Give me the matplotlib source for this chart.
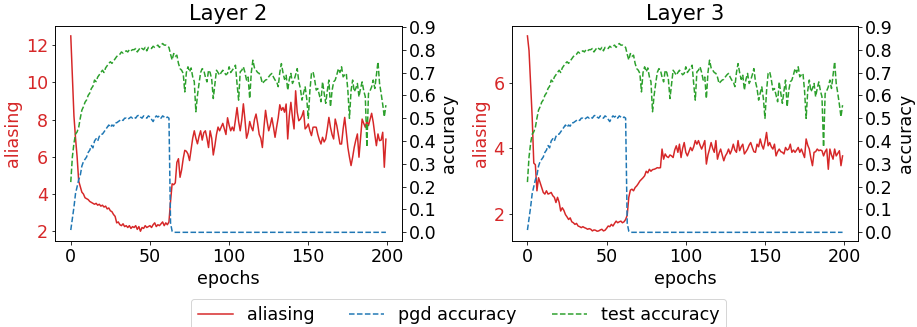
import numpy as np
import matplotlib
matplotlib.use("Agg")
import matplotlib.pyplot as plt

# test / pgd accuracy (same model for both layers)
test_acc = [
    0.22, 0.33, 0.39, 0.43, 0.44, 0.46, 0.50, 0.535, 0.55, 0.57,
    0.58, 0.60, 0.61, 0.63, 0.64, 0.667, 0.66, 0.68, 0.69, 0.70,
    0.71, 0.70, 0.72, 0.73, 0.74, 0.747, 0.74, 0.75, 0.76, 0.77,
    0.776, 0.78, 0.79, 0.785, 0.79, 0.795, 0.79, 0.80, 0.795, 0.80,
    0.80, 0.805, 0.79, 0.80, 0.81, 0.805, 0.80, 0.81, 0.795, 0.81,
    0.81, 0.805, 0.815, 0.81, 0.815, 0.82, 0.81, 0.82, 0.827, 0.82,
    0.82, 0.815, 0.81, 0.78, 0.755, 0.783, 0.77, 0.776, 0.74, 0.717,
    0.71, 0.696, 0.615, 0.70, 0.725, 0.703, 0.72, 0.681, 0.66, 0.528,
    0.60, 0.652, 0.70, 0.717, 0.71, 0.68, 0.659, 0.71, 0.70, 0.67,
    0.586, 0.65, 0.71, 0.70, 0.688, 0.70, 0.71, 0.70, 0.69, 0.696,
    0.725, 0.70, 0.71, 0.72, 0.732, 0.65, 0.579, 0.703, 0.71, 0.725,
    0.70, 0.667, 0.68, 0.586, 0.70, 0.754, 0.72, 0.71, 0.70, 0.696,
    0.68, 0.652, 0.66, 0.667, 0.67, 0.681, 0.69, 0.696, 0.68, 0.667,
    0.66, 0.638, 0.70, 0.739, 0.70, 0.67, 0.688, 0.623, 0.67, 0.696,
    0.652, 0.667, 0.69, 0.717, 0.66, 0.63, 0.579, 0.61, 0.637, 0.586,
    0.499, 0.62, 0.696, 0.703, 0.67, 0.623, 0.63, 0.60, 0.572, 0.659,
    0.61, 0.565, 0.62, 0.667, 0.55, 0.62, 0.659, 0.667, 0.69, 0.717,
    0.70, 0.725, 0.681, 0.69, 0.696, 0.62, 0.499, 0.62, 0.667, 0.616,
    0.63, 0.652, 0.594, 0.63, 0.659, 0.62, 0.594, 0.374, 0.608, 0.62,
    0.637, 0.667, 0.63, 0.69, 0.747, 0.652, 0.608, 0.56, 0.506, 0.557,
]

pgd_acc = [
    0.01, 0.06, 0.11, 0.17, 0.20, 0.23, 0.25, 0.29, 0.31, 0.32,
    0.33, 0.35, 0.36, 0.38, 0.37, 0.40, 0.41, 0.40, 0.42, 0.43,
    0.43, 0.44, 0.45, 0.46, 0.47, 0.46, 0.47, 0.465, 0.48, 0.48,
    0.485, 0.49, 0.495, 0.49, 0.50, 0.50, 0.495, 0.50, 0.505, 0.50,
    0.505, 0.50, 0.51, 0.513, 0.505, 0.50, 0.51, 0.505, 0.50, 0.51,
    0.505, 0.495, 0.485, 0.50, 0.51, 0.505, 0.51, 0.50, 0.51, 0.505,
    0.50, 0.505, 0.50, 0.04, 0.005, 0.0, 0.0, 0.0, 0.0, 0.0,
    0.0, 0.0, 0.0, 0.0, 0.0, 0.0, 0.0, 0.0, 0.0, 0.0,
    0.0, 0.0, 0.0, 0.0, 0.0, 0.0, 0.0, 0.0, 0.0, 0.0,
    0.0, 0.0, 0.0, 0.0, 0.0, 0.0, 0.0, 0.0, 0.0, 0.0,
    0.0, 0.0, 0.0, 0.0, 0.0, 0.0, 0.0, 0.0, 0.0, 0.0,
    0.0, 0.0, 0.0, 0.0, 0.0, 0.0, 0.0, 0.0, 0.0, 0.0,
    0.0, 0.0, 0.0, 0.0, 0.0, 0.0, 0.0, 0.0, 0.0, 0.0,
    0.0, 0.0, 0.0, 0.0, 0.0, 0.0, 0.0, 0.0, 0.0, 0.0,
    0.0, 0.0, 0.0, 0.0, 0.0, 0.0, 0.0, 0.0, 0.0, 0.0,
    0.0, 0.0, 0.0, 0.0, 0.0, 0.0, 0.0, 0.0, 0.0, 0.0,
    0.0, 0.0, 0.0, 0.0, 0.0, 0.0, 0.0, 0.0, 0.0, 0.0,
    0.0, 0.0, 0.0, 0.0, 0.0, 0.0, 0.0, 0.0, 0.0, 0.0,
    0.0, 0.0, 0.0, 0.0, 0.0, 0.0, 0.0, 0.0, 0.0, 0.0,
    0.0, 0.0, 0.0, 0.0, 0.0, 0.0, 0.0, 0.0, 0.0, 0.0,
]

# aliasing per layer
alias_layer2 = [
    12.5, 10.3, 8.2, 7.0, 6.0, 4.7, 4.4, 4.1, 4.0, 3.8,
    3.75, 3.7, 3.6, 3.55, 3.5, 3.45, 3.5, 3.4, 3.45, 3.35,
    3.4, 3.3, 3.35, 3.2, 3.25, 3.1, 3.05, 2.9, 2.8, 2.45,
    2.5, 2.35, 2.3, 2.4, 2.25, 2.3, 2.2, 2.3, 2.15, 2.25,
    2.2, 2.3, 2.1, 2.25, 2.0, 2.2, 2.15, 2.3, 2.2, 2.25,
    2.3, 2.2, 2.35, 2.45, 2.25, 2.35, 2.3, 2.4, 2.5, 2.3,
    2.45, 2.35, 2.5, 3.6, 4.55, 4.5, 4.6, 5.7, 5.9, 4.9,
    5.3, 5.9, 6.35, 6.3, 6.15, 5.8, 6.4, 7.0, 7.4, 7.0,
    6.7, 7.1, 7.4, 6.9, 7.3, 7.4, 7.0, 6.5, 7.4, 7.0,
    6.1, 6.6, 7.2, 7.6, 7.4, 7.6, 7.8, 7.5, 7.2, 8.1,
    7.7, 7.4, 7.6, 7.4, 8.0, 8.65, 7.9, 7.4, 8.0, 8.85,
    8.0, 7.0, 7.3, 7.9, 7.6, 7.4, 8.0, 8.3, 7.8, 7.2,
    7.0, 6.5, 7.6, 8.5, 7.9, 7.4, 7.7, 8.1, 7.6, 7.05,
    7.6, 8.1, 8.8, 8.5, 8.65, 8.4, 8.84, 6.96, 8.2, 8.93,
    8.12, 7.5, 9.55, 8.4, 7.94, 8.03, 8.2, 8.48, 7.5, 7.6,
    7.77, 7.4, 7.14, 7.59, 7.6, 7.59, 7.2, 6.9, 6.69, 7.05,
    6.8, 6.96, 7.5, 8.12, 7.59, 7.2, 6.96, 8.03, 7.68, 7.2,
    6.69, 6.69, 7.5, 8.12, 7.32, 6.5, 5.98, 5.53, 5.98, 6.51,
    6.9, 7.23, 5.98, 7.0, 8.03, 7.8, 7.59, 7.94, 7.68, 8.0,
    8.34, 7.86, 7.2, 6.6, 7.23, 6.87, 6.9, 7.32, 5.44, 6.95,
]

alias_layer3 = [
    7.45, 7.0, 6.0, 4.95, 3.55, 3.5, 2.7, 3.1, 2.95, 2.8,
    2.65, 2.6, 2.7, 2.6, 2.62, 2.65, 2.55, 2.5, 2.34, 2.5,
    2.35, 2.08, 2.18, 2.1, 1.97, 1.9, 1.82, 1.87, 1.75, 1.72,
    1.67, 1.7, 1.62, 1.6, 1.57, 1.6, 1.57, 1.55, 1.52, 1.54,
    1.52, 1.47, 1.5, 1.49, 1.46, 1.47, 1.5, 1.52, 1.47, 1.49,
    1.55, 1.62, 1.6, 1.67, 1.62, 1.7, 1.77, 1.72, 1.75, 1.77,
    1.72, 1.75, 1.82, 1.95, 2.5, 2.72, 2.75, 2.7, 2.8, 2.85,
    2.92, 3.0, 3.05, 3.1, 3.16, 3.3, 3.25, 3.36, 3.3, 3.35,
    3.36, 3.38, 3.41, 3.4, 3.41, 3.98, 3.67, 3.83, 3.75, 3.72,
    3.8, 3.77, 3.72, 3.95, 4.08, 3.88, 4.13, 3.72, 4.0, 4.18,
    3.88, 3.77, 3.9, 4.03, 3.93, 4.05, 4.24, 4.13, 4.24, 4.1,
    3.98, 4.1, 4.24, 3.52, 3.8, 3.98, 4.18, 4.0, 3.88, 4.24,
    3.67, 3.85, 3.98, 3.8, 3.62, 3.77, 3.85, 3.98, 3.83, 3.95,
    4.13, 3.95, 3.88, 4.24, 3.93, 4.05, 4.13, 3.83, 3.9, 3.98,
    4.1, 4.18, 4.03, 3.9, 3.88, 4.13, 4.05, 4.29, 4.1, 3.98,
    4.2, 4.49, 4.08, 4.18, 4.05, 3.98, 4.13, 3.77, 3.9, 3.98,
    3.9, 3.88, 3.83, 4.03, 3.95, 3.98, 4.13, 3.88, 3.95, 3.88,
    3.95, 4.03, 3.88, 3.98, 3.85, 3.72, 4.29, 4.1, 3.98, 3.7,
    3.47, 3.88, 3.9, 3.98, 3.93, 3.95, 3.93, 3.77, 3.9, 3.98,
    3.36, 3.98, 3.8, 3.67, 3.98, 3.77, 3.85, 3.93, 3.47, 3.77,
]

layer_names = ["Layer 2", "Layer 3"]
alias_data = [alias_layer2, alias_layer3]

epochs = np.arange(len(test_acc))

# reference looks like a 72 dpi export, so points == pixels here
FS = 17.5
plt.rcParams['font.size'] = FS

fig = plt.figure(figsize=(917 / 72, 327 / 72), dpi=72)

positions = [[0.060, 0.263, 0.378, 0.657], [0.558, 0.263, 0.378, 0.657]]

lines = []
for i in range(2):
    ax = fig.add_axes(positions[i])
    l1, = ax.plot(epochs, alias_data[i], color='tab:red', lw=1.5, label='aliasing')
    ax.set_ylabel('aliasing', color='tab:red')
    ax.set_xlabel('epochs')
    ax.set_title(layer_names[i])
    ax.tick_params(axis='y', labelcolor='tab:red')
    ax.set_xticks([0, 50, 100, 150, 200])

    ax2 = ax.twinx()
    l2, = ax2.plot(epochs, pgd_acc, color='tab:blue', lw=1.5, ls='--', label='pgd accuracy')
    l3, = ax2.plot(epochs, test_acc, color='tab:green', lw=1.5, ls='--', label='test accuracy')
    ax2.set_ylim(-0.038, 0.903)
    ax2.set_yticks(np.arange(0, 0.91, 0.1))
    ax2.set_ylabel('accuracy')
    lines = [l1, l2, l3]

fig.legend(lines, [l.get_label() for l in lines], loc='lower center',
           bbox_to_anchor=(0.5, -0.012), borderaxespad=0, ncol=3,
           columnspacing=2.0)

fig.savefig('out.png', dpi=72)
